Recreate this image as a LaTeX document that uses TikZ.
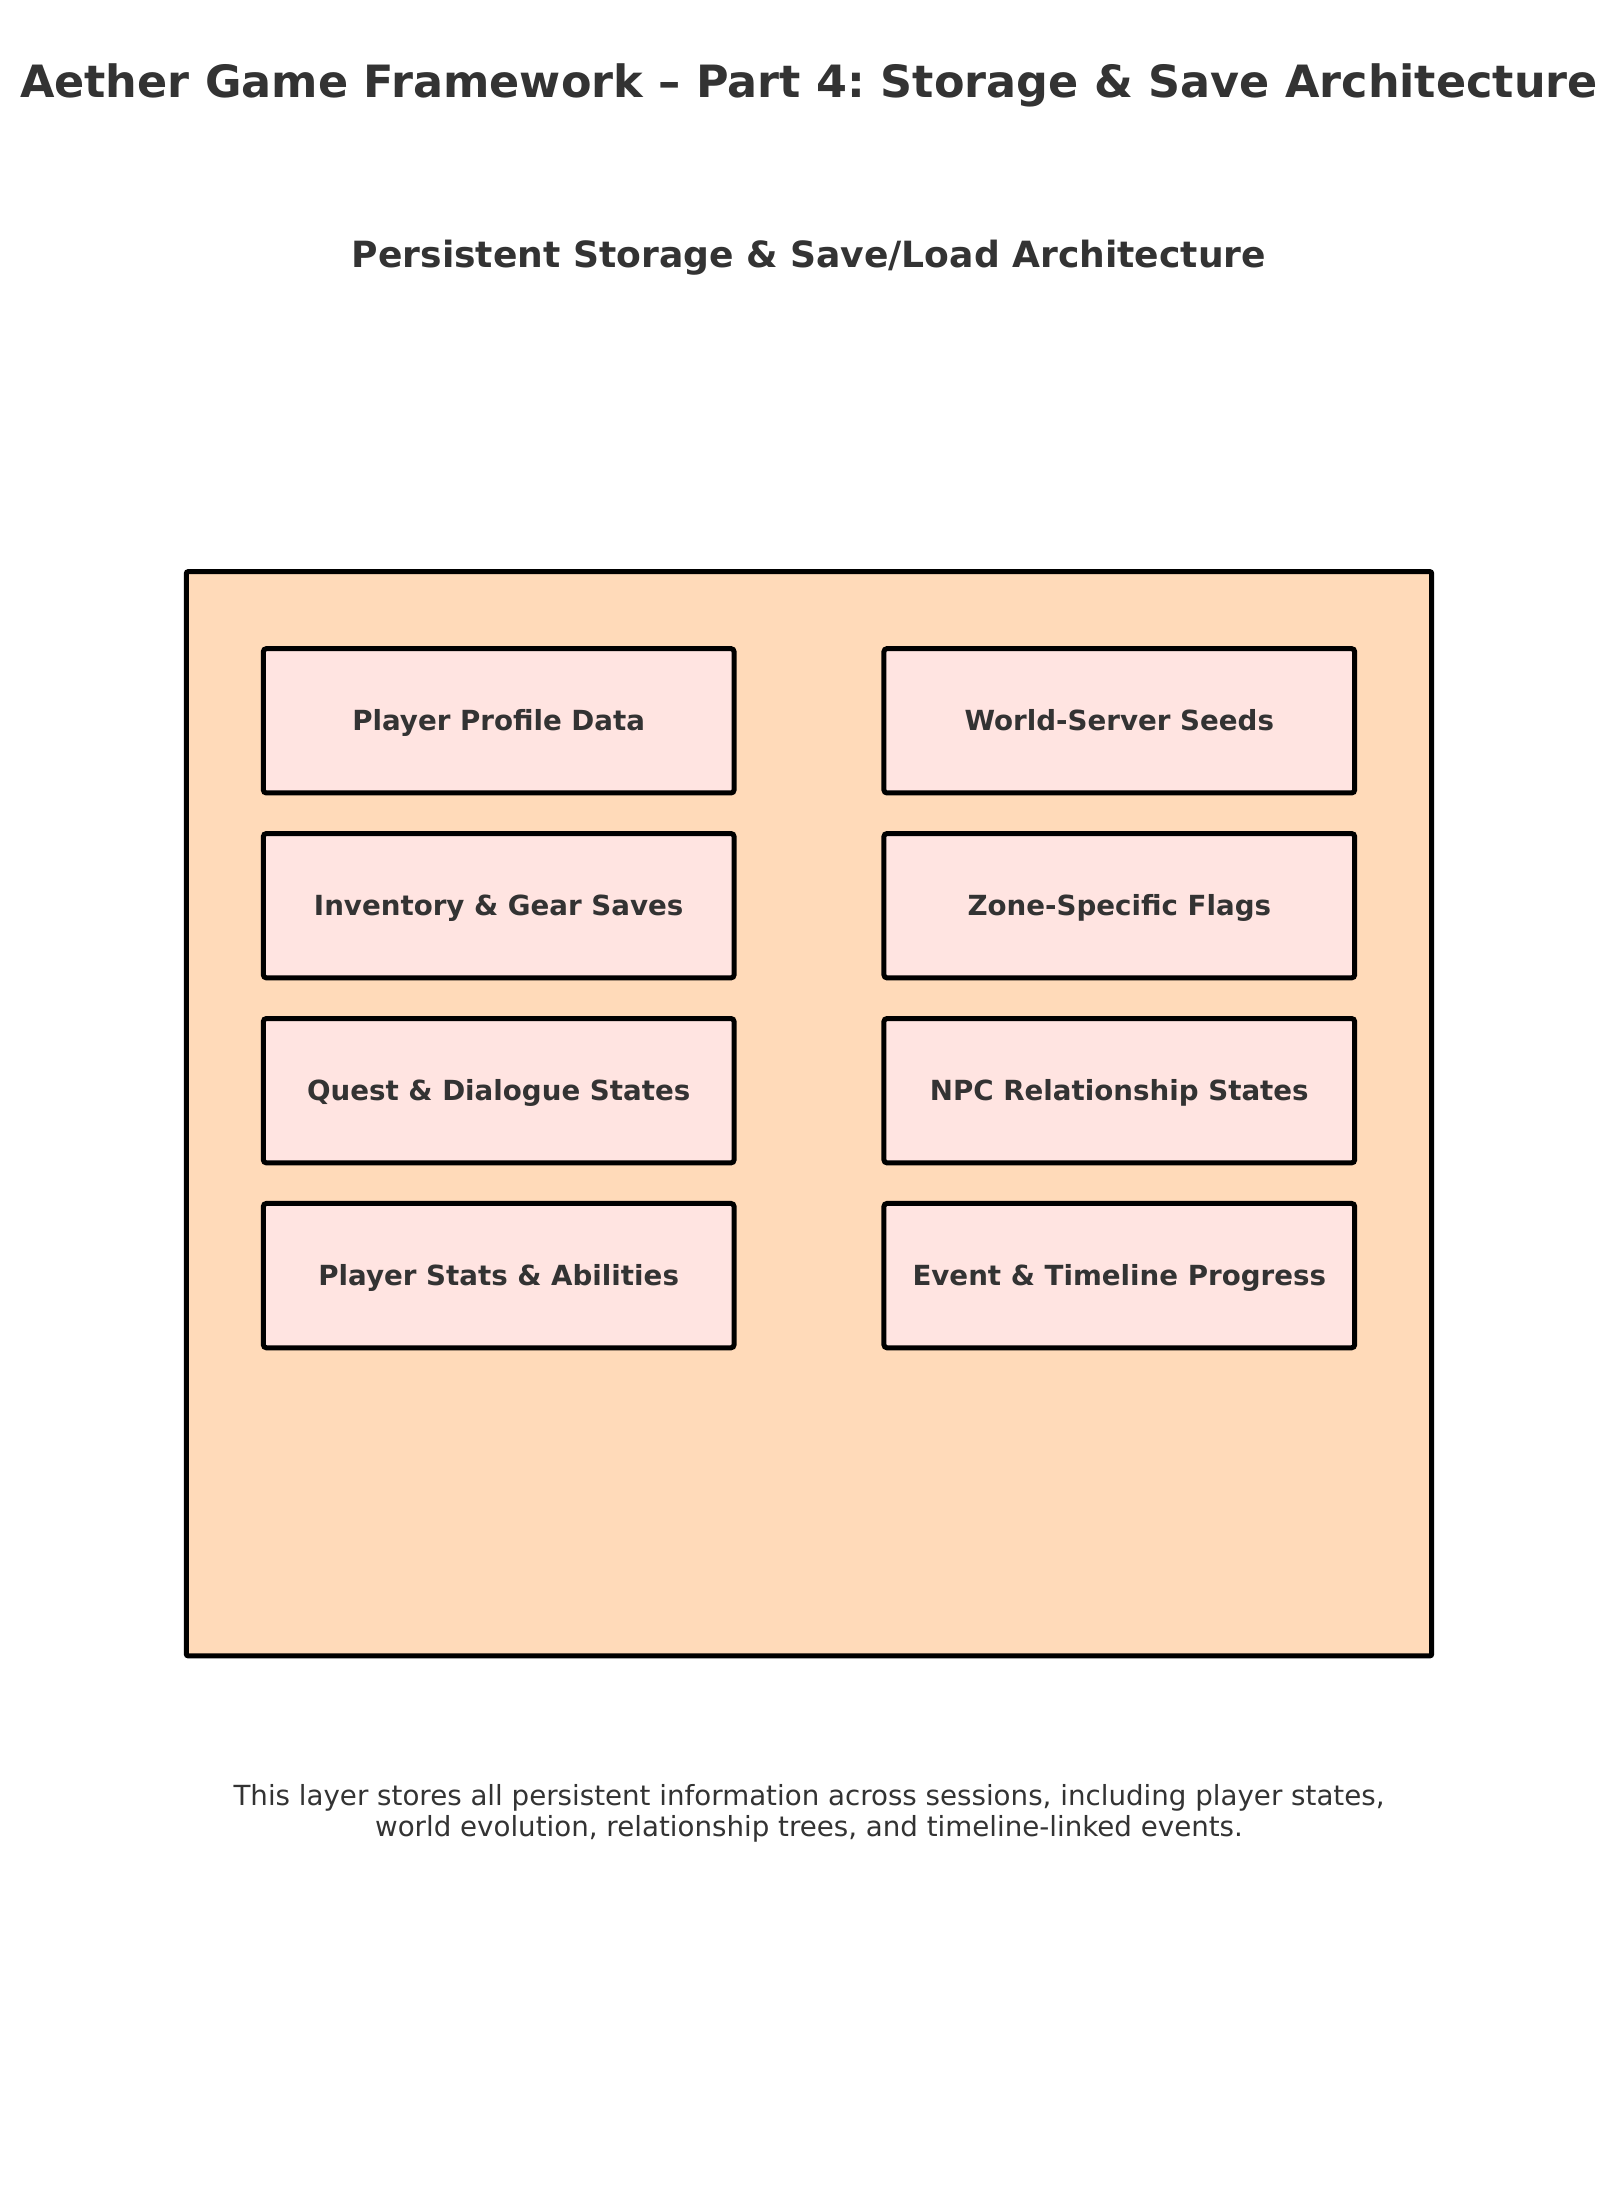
\documentclass[tikz,border=0pt]{standalone}
\usepackage{fontspec}
\setmainfont{DejaVu Sans}
\frenchspacing
\definecolor{txt}{HTML}{333333}
\definecolor{layerfill}{HTML}{FFDAB9}
\definecolor{cellfill}{HTML}{FFE4E1}
\begin{document}
\begin{tikzpicture}[x=1pt,y=-1pt,
  layer/.style={draw=black, line width=5pt, fill=layerfill, rounded corners=2pt},
  cell/.style={draw=black, line width=5pt, fill=cellfill, rounded corners=3pt,
    minimum width=470.7pt, minimum height=144.3pt, inner sep=0pt,
    text height=27pt, text depth=7.5pt,
    font=\fontsize{27.7}{33}\selectfont\bfseries, text=txt},
  heading/.style={font=\fontsize{44.5}{55}\selectfont\bfseries, text=txt},
  subheading/.style={font=\fontsize{36.1}{44}\selectfont\bfseries, text=txt},
  note/.style={font=\fontsize{27.7}{31}\selectfont, text=txt, align=center}]
\useasboundingbox[fill=white] (0,0) rectangle (1618,2196);

\node[heading] (title) at (809,85.5) {Aether Game Framework – Part 4: Storage \& Save Architecture};
\node[subheading] (subtitle) at (809,257.5) {Persistent Storage \& Save/Load Architecture};

% storage layer container
\draw[layer] (186.3,571.6) rectangle (1431.7,1655.9);

% left column
\node[cell] (profile) at (498.7,720.8) {Player Profile Data};
\node[cell] (inventory) at (498.7,905.7) {Inventory \& Gear Saves};
\node[cell] (quest) at (498.7,1090.7) {Quest \& Dialogue States};
\node[cell] (stats) at (498.7,1275.6) {Player Stats \& Abilities};

% right column
\node[cell] (seeds) at (1119.3,720.8) {World-Server Seeds};
\node[cell] (flags) at (1119.3,905.7) {Zone-Specific Flags};
\node[cell] (npc) at (1119.3,1090.7) {NPC Relationship States};
\node[cell] (events) at (1119.3,1275.6) {Event \& Timeline Progress};

\node[note] (footer) at (809,1813) {This layer stores all persistent information across sessions, including player states,\\world evolution, relationship trees, and timeline-linked events.};
\end{tikzpicture}
\end{document}
